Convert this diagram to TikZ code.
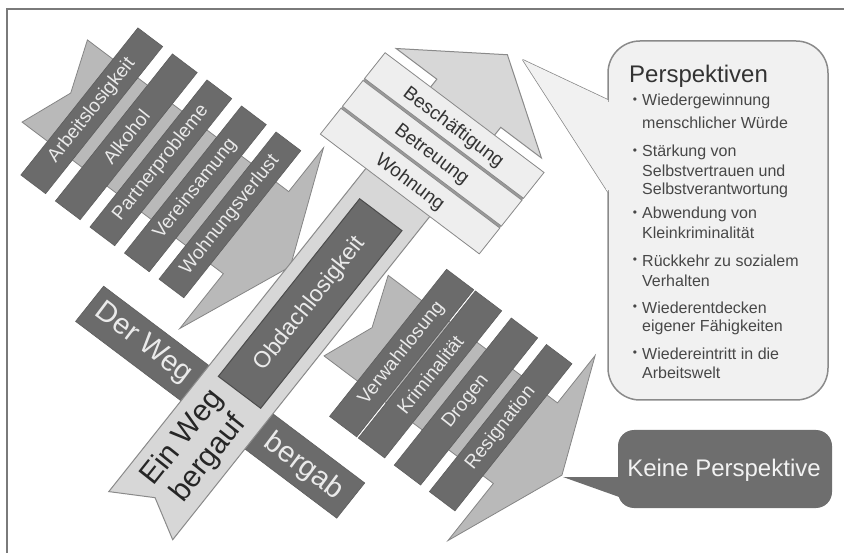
\documentclass[tikz,border=0pt]{standalone}
\usepackage{fontspec}
\setmainfont{Liberation Sans}
\definecolor{bardark}{HTML}{6B6B6B}
\definecolor{barline}{HTML}{5E5E5E}
\definecolor{arrowfill}{HTML}{B9B9B9}
\definecolor{arrowline}{HTML}{858585}
\definecolor{ribbonfill}{HTML}{D7D7D7}
\definecolor{ribbonline}{HTML}{8A8A8A}
\definecolor{boxfill}{HTML}{EEEEEE}
\definecolor{sepgray}{HTML}{9A9A9A}
\definecolor{bubblefill}{HTML}{F1F1F1}
\definecolor{bubbleline}{HTML}{8A8A8A}
\definecolor{darkbubble}{HTML}{6E6E6E}
\definecolor{textdark}{HTML}{333333}
\definecolor{textlight}{HTML}{EAEAEA}
\definecolor{framegray}{HTML}{7A7A7A}
\newcommand{\quadbox}[5]{\path[#1] (#2,#4) -- (#3,#4) -- (#3,#5) -- (#2,#5) -- cycle;}
\tikzset{
  framestyle/.style={draw=framegray, line width=2pt},
  arrowshape/.style={fill=arrowfill, draw=arrowline, line width=0.8pt},
  darkbar/.style={fill=bardark, draw=barline, line width=0.6pt},
  ribbonshape/.style={fill=ribbonfill, draw=ribbonline, line width=1pt},
  obdbox/.style={fill=bardark, draw=black!70, line width=1pt},
  lightbox/.style={fill=boxfill, draw=ribbonline, line width=0.8pt},
  sepstrip/.style={fill=sepgray},
  bartext/.style={text=textlight, inner sep=0pt, rotate=51.5, font=\fontsize{19}{22}\selectfont},
  boxtext/.style={text=textdark, inner sep=0pt, rotate=-37, font=\fontsize{19}{22}\selectfont},
  waytext/.style={text=textlight, inner sep=0pt, rotate=-37, font=\fontsize{29}{33}\selectfont},
  bubbletitle/.style={text=textdark, inner sep=0pt, anchor=west, font=\fontsize{24}{28}\selectfont},
  itemtext/.style={text=textdark!90, inner sep=0pt, anchor=west, font=\fontsize{16}{19}\selectfont},
  bullettext/.style={text=textdark!90, inner sep=0pt, font=\fontsize{12}{14}\selectfont},
}
\begin{document}
\begin{tikzpicture}[x=1pt,y=-1pt]
\useasboundingbox (0,0) rectangle (844,553);
\draw[framestyle] (7,553) -- (7,9) -- (844,9);

\begin{scope}[shift={(108,491)}, x={(-37:1pt)}, y={(51.5:1pt)}]
  % upper-left group: arrow and bars
  \filldraw[arrowshape] (-297,243) -- (-277,295.5) -- (-297,348) -- (-45,348) -- (-45,404) -- (3,289) -- (-45,173) -- (-45,243) -- cycle;
  \quadbox{darkbar}{-265}{-234}{200}{388}
  \quadbox{darkbar}{-221.75}{-190.75}{200}{388}
  \quadbox{darkbar}{-178.5}{-147.5}{200}{388}
  \quadbox{darkbar}{-135.25}{-104.25}{200}{388}
  \quadbox{darkbar}{-92}{-61}{200}{388}
  \node[bartext] (t1) at (-249.5,294) {Arbeitslosigkeit};
  \node[bartext] (t2) at (-206.25,294) {Alkohol};
  \node[bartext] (t3) at (-163,294) {Partnerprobleme};
  \node[bartext] (t4) at (-119.75,294) {Vereinsamung};
  \node[bartext] (t5) at (-76.5,294) {Wohnungsverlust};

  % lower-right group: arrow and bars
  \filldraw[arrowshape] (85,238) -- (105,289.5) -- (85,341) -- (297,341) -- (297,401.5) -- (345.5,286) -- (297,165) -- (297,238) -- cycle;
  \quadbox{darkbar}{127}{161}{193}{381}
  \quadbox{darkbar}{163}{196}{193}{381}
  \quadbox{darkbar}{208}{241}{193}{381}
  \quadbox{darkbar}{252}{284}{193}{381}
  \node[bartext] (s1) at (144,287) {Verwahrlosung};
  \node[bartext] (s2) at (179.5,287) {Kriminalität};
  \node[bartext] (s3) at (224.5,287) {Drogen};
  \node[bartext] (s4) at (268,287) {Resignation};

  % Der Weg bergab band
  \quadbox{darkbar}{-131}{196}{116}{161}
  \node[waytext] (derweg) at (-64,139) {Der Weg};
  \node[waytext] (bergab) at (138,137) {bergab};

  % Ein Weg bergauf ribbon arrow
  \filldraw[ribbonshape] (1,0) -- (41,23) -- (81,0) -- (81,527) -- (132,527) -- (41,589) -- (-50,527) -- (1,527) -- cycle;
  \node[text=black!85, inner sep=0pt, rotate=51.5, align=center, font=\fontsize{30}{33}\selectfont] (bergauf) at (42,87) {Ein Weg\\bergauf};

  % Obdachlosigkeit
  \quadbox{obdbox}{15}{68}{158}{385}
  \node[bartext, font=\fontsize{23}{26}\selectfont] (obd) at (41.5,271.5) {Obdachlosigkeit};

  % top boxes
  \quadbox{sepstrip}{-56}{143}{413}{517}
  \quadbox{lightbox}{-56}{143}{413}{446}
  \quadbox{lightbox}{-56}{143}{448.5}{481.5}
  \quadbox{lightbox}{-56}{143}{484}{517}
  \node[boxtext] (wohnung) at (44,428) {Wohnung};
  \node[boxtext] (betreuung) at (44,463) {Betreuung};
  \node[boxtext] (besch) at (44,498) {Beschäftigung};
\end{scope}

% Perspektiven bubble
\filldraw[fill=bubblefill, draw=bubbleline, line width=1.5pt, rounded corners=32pt] (608,41) rectangle (828,400);
\filldraw[fill=bubblefill, draw=bubbleline, line width=1.5pt, line join=round] (608,100) -- (523,60) -- (608,192);
\fill[bubblefill] (606,102) rectangle (611,190);
\fill[bubblefill] (608,100) -- (523,60) -- (608,192) -- cycle;
\node[bubbletitle] (ptitle) at (629,76) {Perspektiven};
\foreach \yy in {101,152,214,261,308,354} {\node[bullettext] at (635,\yy) {•};}
\node[itemtext] (p1a) at (642,101) {Wiedergewinnung};
\node[itemtext] (p1b) at (642,123) {menschlicher Würde};
\node[itemtext] (p2a) at (642,152) {Stärkung von};
\node[itemtext] (p2b) at (642,171) {Selbstvertrauen und};
\node[itemtext] (p2c) at (642,190) {Selbstverantwortung};
\node[itemtext] (p3a) at (642,214) {Abwendung von};
\node[itemtext] (p3b) at (642,233) {Kleinkriminalität};
\node[itemtext] (p4a) at (642,261) {Rückkehr zu sozialem};
\node[itemtext] (p4b) at (642,281) {Verhalten};
\node[itemtext] (p5a) at (642,308) {Wiederentdecken};
\node[itemtext] (p5b) at (642,327) {eigener Fähigkeiten};
\node[itemtext] (p6a) at (642,354) {Wiedereintritt in die};
\node[itemtext] (p6b) at (642,373) {Arbeitswelt};

% Keine Perspektive bubble
\fill[darkbubble, rounded corners=16pt] (618,430) rectangle (832,508);
\fill[darkbubble] (563,477) -- (622,477) -- (622,498) -- cycle;
\node[text=white!95!black, inner sep=0pt, font=\fontsize{24}{28}\selectfont] (keine) at (724,470) {Keine Perspektive};
\end{tikzpicture}
\end{document}
